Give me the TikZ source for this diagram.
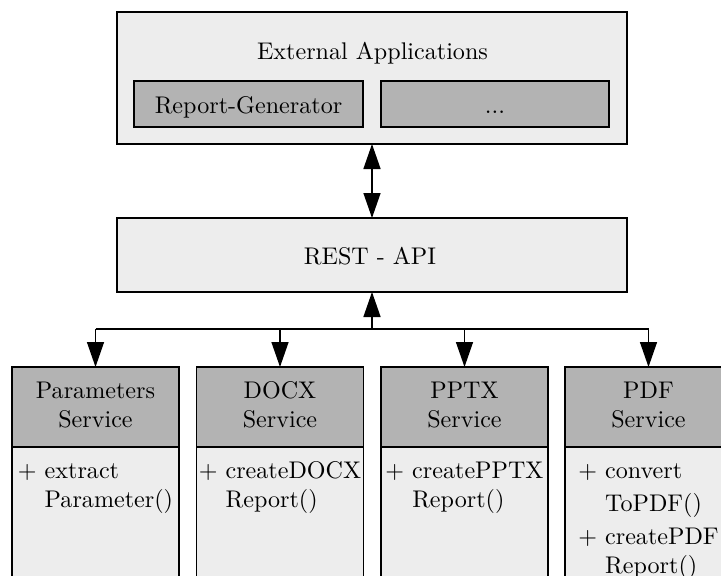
\documentclass[tikz,border=0pt]{standalone}
\usepackage{fontspec}
% design size 10 shapes, scaled up
\setmainfont{lmroman10-regular}[Extension=.otf]
\usetikzlibrary{arrows.meta}
\definecolor{paneFill}{HTML}{EDEDED}
\definecolor{headFill}{HTML}{B3B3B3}
\begin{document}
\begin{tikzpicture}[x=1pt,y=-1pt,
  font=\fontsize{24.1}{29}\selectfont,
  frame/.style={draw, line width=1.4pt, inner sep=0pt, outer sep=0pt},
  pane/.style={frame, fill=paneFill},
  darkpane/.style={frame, fill=headFill},
  svcHead/.style={darkpane, minimum width=167pt, minimum height=80pt},
  svcBody/.style={pane, minimum width=167pt, minimum height=173pt, anchor=north},
  txt/.style={inner sep=0pt, anchor=base},
  headText/.style={inner sep=0pt, anchor=north, align=center},
  opsText/.style={inner sep=0pt, anchor=north, align=left},
  link/.style={line width=1.4pt},
  bigTip/.tip={Triangle[length=25pt,width=17pt]}
]
\useasboundingbox (0,0) rectangle (721,576);
\clip (0,0) rectangle (721,576);

% external applications
\node[pane, minimum width=510pt, minimum height=132pt] (ext) at (372,78) {};
\node[txt] (extTitle) at (372.5,59) {External Applications};
\node[darkpane, minimum width=229pt, minimum height=46pt] (gen) at (248.5,104) {};
\node[txt] (genText) at (248.5,113) {Report-Generator};
\node[darkpane, minimum width=228pt, minimum height=46pt] (more) at (495,104) {};
\node[txt] (moreText) at (495,113) {...};

% REST layer
\node[pane, minimum width=510pt, minimum height=74pt] (rest) at (372,255) {};
\node[txt] (restText) at (370,264) {REST - API};

% services
\foreach \nm/\cx in {params/95.5, docx/280, pptx/464.5, pdf/648.5}{
  \node[svcBody] (\nm Body) at (\cx,447) {};
  \node[svcHead] (\nm) at (\cx,407) {};
}
\node[headText] (paramsTitle) at (95.5,377.7) {\strut Parameters\\Service};
\node[headText] (docxTitle) at (280,377.7) {\strut DOCX\\Service};
\node[headText] (pptxTitle) at (464.5,377.7) {\strut PPTX\\Service};
\node[headText] (pdfTitle) at (648.5,377.7) {\strut PDF\\Service};

\node[opsText] (paramsOps) at (95.5,457.7) {\strut+ extract\\\hphantom{+ }Parameter()};
\node[opsText] (docxOps) at (280,457.7) {\strut+ createDOCX\\\hphantom{+ }Report()};
\node[opsText] (pptxOps) at (464.5,457.7) {\strut+ createPPTX\\\hphantom{+ }Report()};
\node[opsText] (pdfOps) at (648.5,457.7) {\strut+ convert\\[4pt]\hphantom{+ }ToPDF()\\[4pt]+ createPDF\\\hphantom{+ }Report()};

% connectors
\draw[link, bigTip-bigTip] (ext.south) -- (rest.north);
\coordinate (bus) at (372,329);
\draw[link, -bigTip] (bus) -- (rest.south);
\draw[link] (bus -| params.north) -- (bus -| pdf.north);
\foreach \nm in {params, docx, pptx, pdf}{
  \draw[link, -bigTip] (bus -| \nm.north) -- (\nm.north);
}
\end{tikzpicture}
\end{document}
